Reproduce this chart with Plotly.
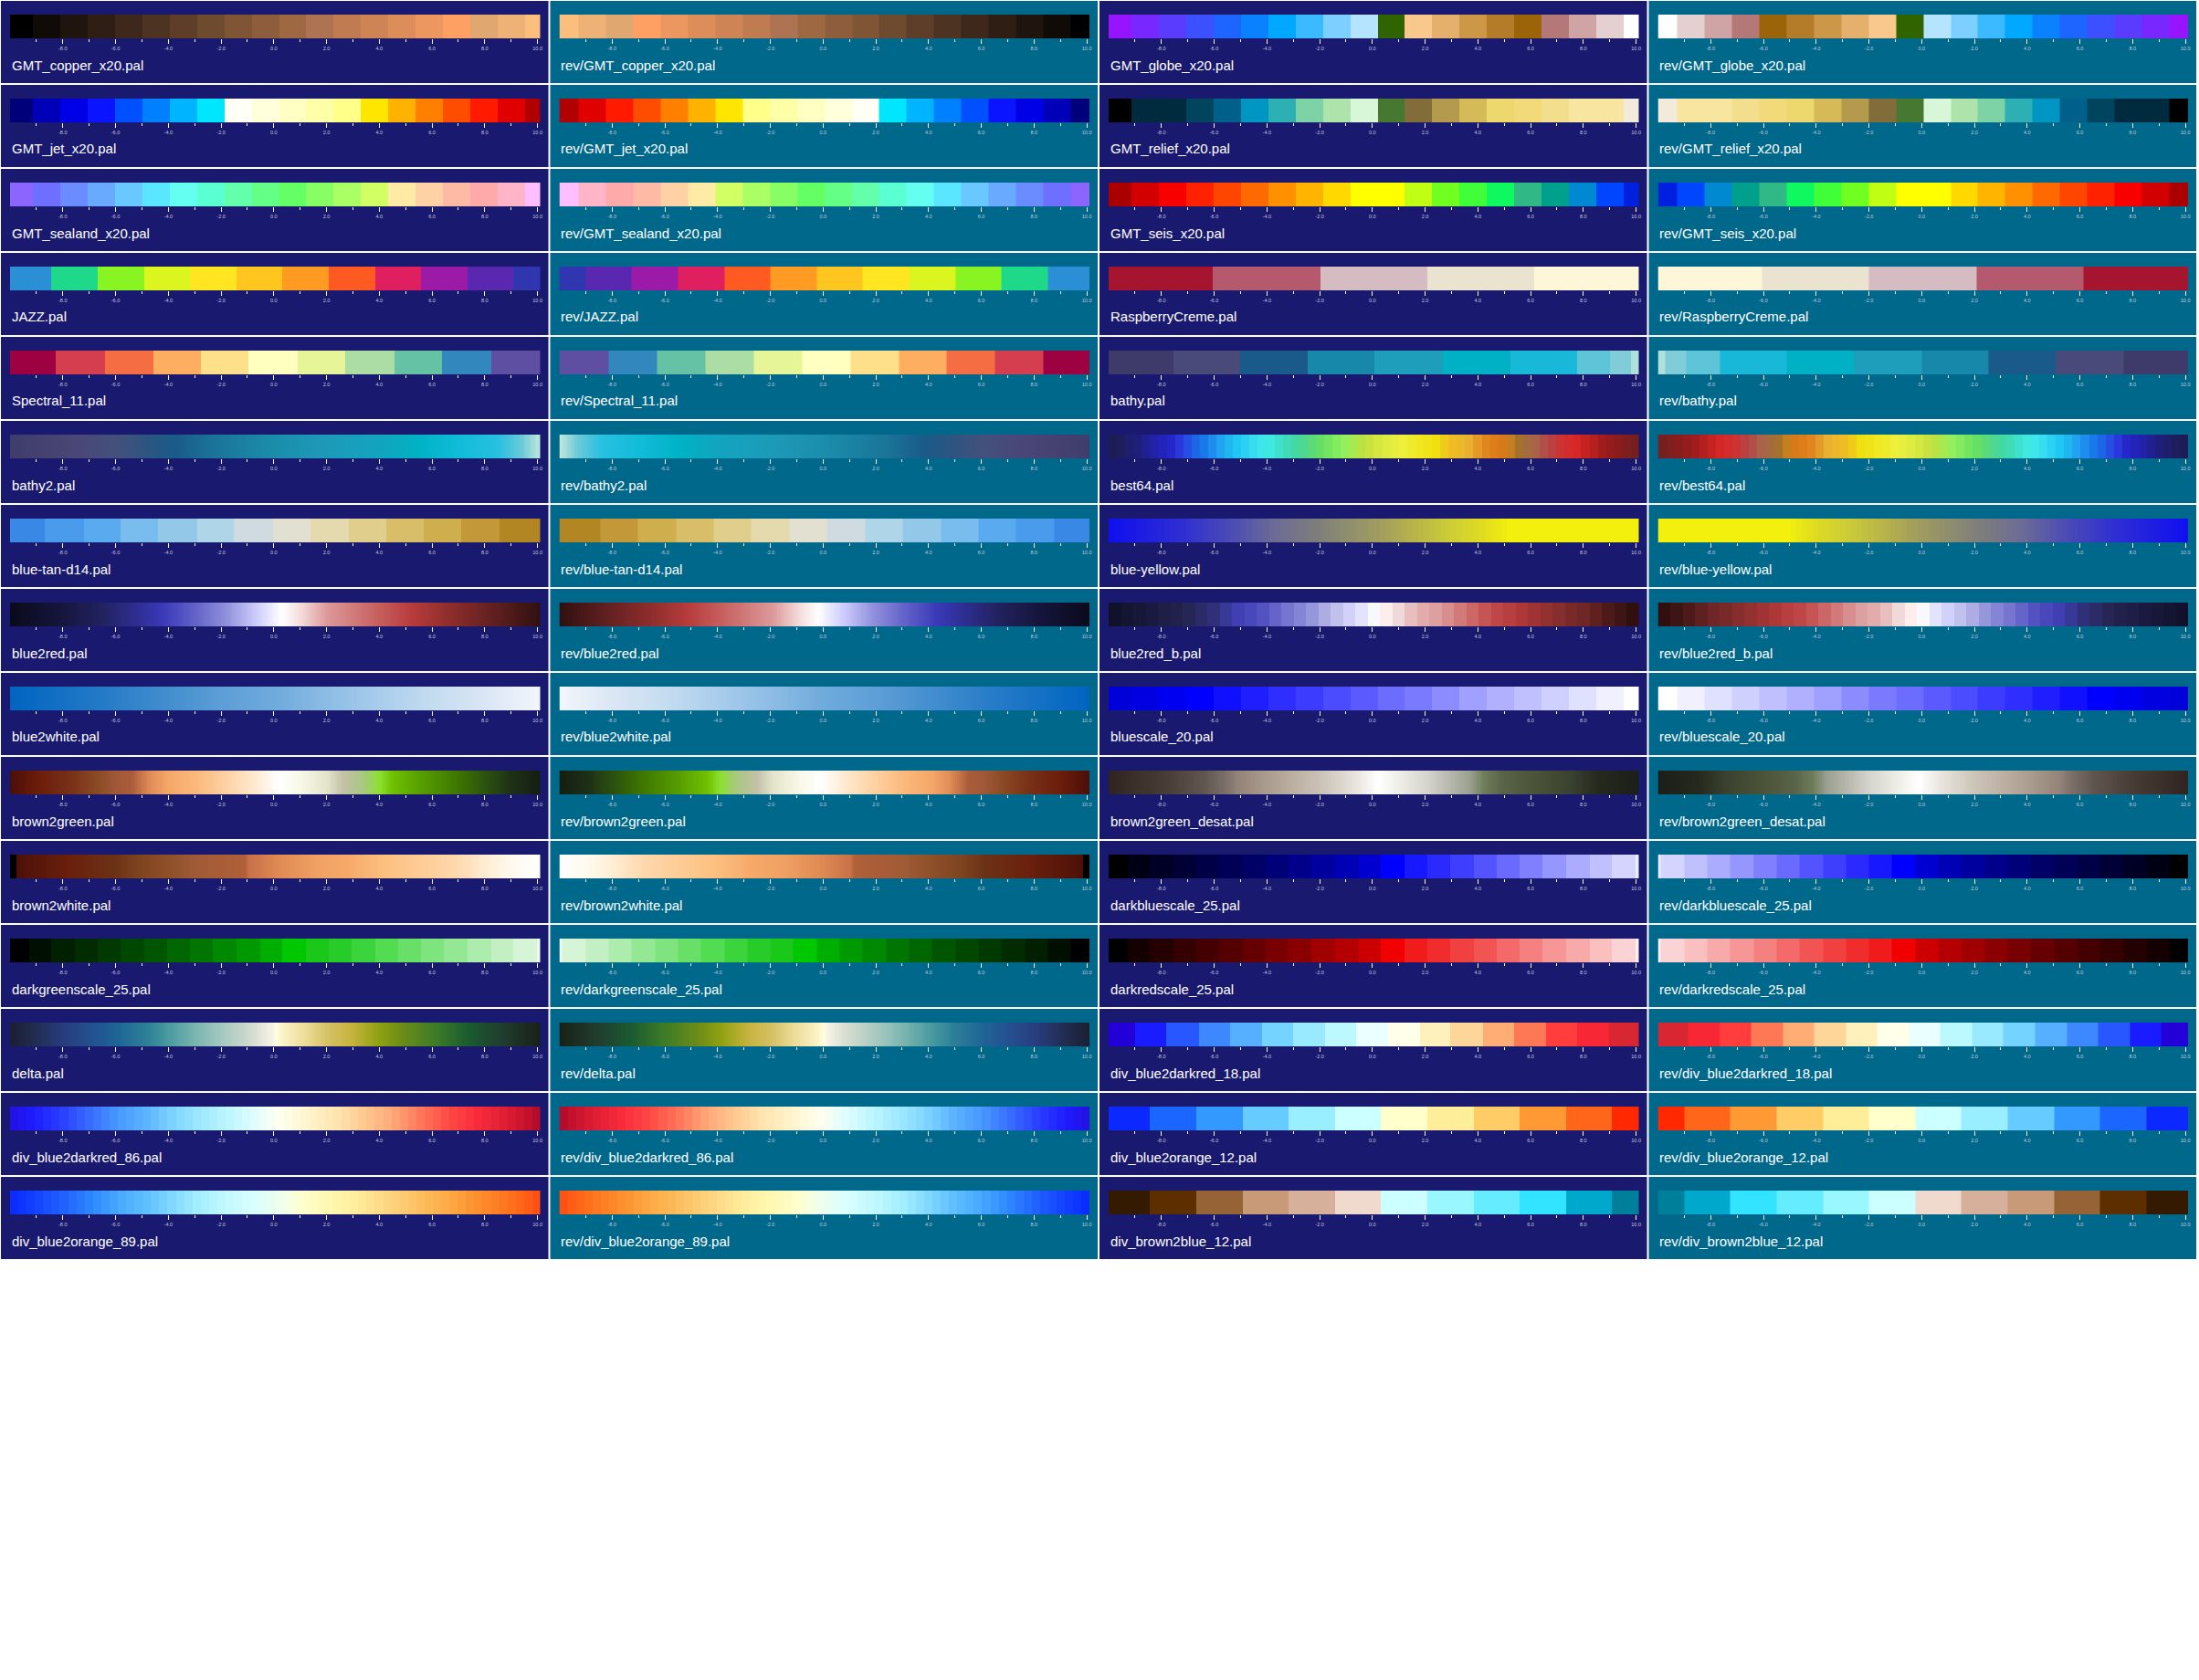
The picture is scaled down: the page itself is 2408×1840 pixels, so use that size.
import plotly.graph_objects as go

# ---------------- data ----------------
TICK_VALUES = [-8, -6, -4, -2, 0, 2, 4, 6, 8, 10]
TICK_LABELS = ["-8.0", "-6.0", "-4.0", "-2.0", "0.0", "2.0", "4.0", "6.0", "8.0", "10.0"]
MINOR_TICK_VALUES = [-9, -7, -5, -3, -1, 1, 3, 5, 7, 9]
X_RANGE = [-10, 10.1]

# box edges (value units)
EDGES_20 = [-10, -9.13, -8.09, -7.06, -6.02, -4.98, -3.95, -2.91, -1.87, -0.84, 0.2,
            1.23, 2.27, 3.30, 4.34, 5.38, 6.41, 7.45, 8.49, 9.52, 10.1]
EDGES_20_REV = [-10, -9.26, -8.23, -7.19, -6.16, -5.12, -4.08, -3.05, -2.01, -0.98, 0.06,
                1.10, 2.13, 3.17, 4.20, 5.24, 6.28, 7.31, 8.35, 9.38, 10.1]
EDGES_25 = [-10, -9.28, -8.43, -7.55, -6.66, -5.80, -4.92, -4.03, -3.17, -2.30, -1.40, -0.53,
            0.33, 1.23, 2.10, 2.96, 3.84, 4.73, 5.59, 6.46, 7.36, 8.23, 9.09, 9.99, 10.1]
EDGES_12 = [-10, -8.43, -6.66, -4.92, -3.17, -1.40, 0.33, 2.10, 3.84, 5.59, 7.36, 9.09, 10.1]
EDGES_11 = [-10, -8.26, -6.41, -4.58, -2.78, -0.95, 0.89, 2.72, 4.56, 6.39, 8.23, 10.1]
EDGES_14 = [-10, -8.67, -7.21, -5.80, -4.38, -2.91, -1.51, -0.04, 1.38, 2.83, 4.25, 5.67,
            7.12, 8.55, 10.1]
EDGES_5 = [-10, -6.04, -1.98, 2.10, 6.15, 10.1]
EDGES_BATHY = [-10, -7.55, -5.00, -2.44, 0.09, 2.66, 5.22, 7.75, 9.02, 9.82, 10.1]
EDGES_17 = [-10, -8.98, -7.81, -6.58, -5.41, -4.20, -2.99, -1.81, -0.60, 0.58, 1.79, 2.96,
            4.19, 5.36, 6.57, 7.75, 8.96, 10.1]

GMT_COPPER_X20 = ["#000000", "#110b07", "#1f150e", "#2e1e14", "#3d281b", "#4d3322", "#5e3e28",
                  "#6e4a2f", "#7f5536", "#8d5d3c", "#9e6843", "#ad7352", "#c07b50", "#cf8455",
                  "#dd8d5a", "#ec975f", "#fe9f64", "#e0a870", "#eeb276", "#fcbe7c"]
GMT_GLOBE_X20 = ["#9614ff", "#7828ff", "#5a3cff", "#3c50ff", "#1e64ff", "#0a82ff", "#00a8ff",
                 "#3cbaff", "#7ccfff", "#b4e4ff", "#306400", "#f8c88c", "#e4b06c", "#cc9848",
                 "#b47c28", "#9c6408", "#b47878", "#d0a4a4", "#e4d0d0", "#ffffff"]
GMT_JET_X20 = ["#00007a", "#0000b9", "#0000e6", "#0a14ff", "#0050ff", "#0080ff", "#00b4ff",
               "#00e6ff", "#fffff5", "#ffffdc", "#ffffc4", "#ffffa8", "#ffff8a", "#ffe600",
               "#ffb300", "#ff8000", "#ff4d00", "#ff1a00", "#e00000", "#b00000"]
GMT_RELIEF_X20 = ["#000000", "#002b3e", "#002b3e", "#00445e", "#00608a", "#0096c4", "#2db0b4",
                  "#7dd3a5", "#aee4ac", "#d8f6d8", "#467832", "#826c3a", "#b49a4c", "#d6ba58",
                  "#ecd86c", "#f2da7a", "#f2de8c", "#f8e6a0", "#f8e6a0", "#f2eada"]
GMT_SEALAND_X20 = ["#8c64ff", "#6e6eff", "#6a8cff", "#69aaff", "#69c8ff", "#5ae6ff", "#64fff0",
                   "#5affd2", "#64ffaa", "#64ff87", "#64ff64", "#87ff64", "#aaff64", "#d2ff64",
                   "#ffeba5", "#ffd2a5", "#ffbaa5", "#ffaaaa", "#ffb4c8", "#ffbeff"]
GMT_SEIS_X20 = ["#aa0000", "#d20000", "#f80000", "#ff2200", "#ff4600", "#ff6a00", "#ff9000",
                "#ffb400", "#ffd800", "#ffff00", "#ffff00", "#c0ff14", "#70ff20", "#40ff38",
                "#10f860", "#30b886", "#00a08c", "#0088d0", "#0046ff", "#0020e0"]
JAZZ = ["#2b8fd6", "#1fd98a", "#88f522", "#dbf51f", "#ffe620", "#ffc61f", "#ff9b22",
        "#ff5a22", "#e01f60", "#9b1aa8", "#5a28b0", "#3036b0"]
RASPBERRY_CREME = ["#a51530", "#b55a6e", "#d4bcc2", "#e9e3d0", "#fdf6d8"]
SPECTRAL_11 = ["#9e0142", "#d53e4f", "#f46d43", "#fdae61", "#fee08b", "#ffffbf", "#e6f598",
               "#abdda4", "#66c2a5", "#3288bd", "#5e4fa2"]
BATHY = ["#3e3a6a", "#4a4a7a", "#1a5a8a", "#1888aa", "#1e9eba", "#00b0c4", "#18b8d8",
         "#5ec4d8", "#80ccd8", "#b0e0dc"]
BLUE_TAN_D14 = ["#3a88e6", "#4b9bec", "#5aaaf0", "#78bdee", "#94c8e8", "#aed6e8", "#cfdbe0",
                "#e2e0d0", "#e4daae", "#e0cf8c", "#d8be68", "#cfae4e", "#c39838", "#b18623"]
BLUESCALE_20 = ["#0000d8", "#0000e0", "#0000f0", "#0000ff", "#1010ff", "#1e1eff", "#2e2eff",
                "#3c3cff", "#4c4cff", "#5a5aff", "#6c6cff", "#7a7aff", "#8c8cff", "#a0a0ff",
                "#b0b0ff", "#c0c0ff", "#d0d0ff", "#e0e0ff", "#f0f0ff", "#ffffff"]
DARKGREENSCALE_25 = ["#000000", "#001000", "#002000", "#002c00", "#003a00", "#004800", "#005600",
                     "#006600", "#007600", "#008800", "#009a00", "#00ae00", "#00c800", "#1ac81a",
                     "#28cc28", "#3cd43c", "#52dc52", "#68e068", "#7ee47e", "#94e894", "#acecac",
                     "#c2f0c2", "#d6f4d6", "#eefaee"]
DARKBLUESCALE_25 = ["#000000", "#000014", "#000026", "#000036", "#000046", "#000056", "#000066",
                    "#000078", "#00008a", "#00009e", "#0000b4", "#0000d0", "#0000ff", "#1818ff",
                    "#2a2aff", "#3e3eff", "#5454ff", "#6a6aff", "#8080ff", "#9696ff", "#acacff",
                    "#c0c0ff", "#d4d4ff", "#ececff"]
DARKREDSCALE_25 = ["#000000", "#140000", "#240000", "#340000", "#440000", "#540000", "#660000",
                   "#780000", "#8a0000", "#a00000", "#b40000", "#cc0000", "#f00000", "#f01c1c",
                   "#f02c2c", "#f04040", "#f25454", "#f46a6a", "#f48080", "#f69696", "#f8aaaa",
                   "#fac0c0", "#fad4d4", "#ffeeee"]
DIV_BLUE2DARKRED_18 = ["#2400d8", "#181cff", "#2857ff", "#3d87ff", "#56b0ff", "#75d3ff",
                       "#99eaff", "#bcf9ff", "#eaffff", "#ffffea", "#fff1bc", "#ffd699",
                       "#ffac75", "#ff7856", "#ff3d3d", "#f72735", "#d82632"]
DIV_BLUE2ORANGE_12 = ["#0a28ff", "#1a66ff", "#3399ff", "#66ccff", "#99eeff", "#ccffff",
                      "#ffffcc", "#ffee99", "#ffcc66", "#ff9933", "#ff6619", "#ff2800"]
DIV_BROWN2BLUE_12 = ["#331a00", "#5c2e00", "#966336", "#c89a78", "#d6b09a", "#f0dace",
                     "#ccffff", "#99f8ff", "#66ecff", "#32e4ff", "#00a8cc", "#007f9a"]

# continuous palettes: (value, colour) stops
BATHY2 = [(-10, "#3e3d6b"), (-7.5, "#4a4677"), (-6, "#44507c"), (-4.8, "#2c5580"),
          (-3.7, "#1a5b8a"), (-2.3, "#1a7498"), (0, "#1b8dab"), (2, "#1d9ab8"), (4, "#12a4bf"),
          (5.5, "#00b2c4"), (7, "#10bcd8"), (8.5, "#28c0e0"), (9.4, "#6ccad8"), (10.1, "#c4e8dc")]
BLUE2RED = [(-10, "#0a0a1c"), (-8, "#16163e"), (-6.5, "#222260"), (-5, "#30309a"),
            (-4.2, "#3a3ab8"), (-3, "#6262c8"), (-1.8, "#9090dc"), (-0.6, "#d0d0ff"),
            (0.3, "#ffffff"), (1, "#f4dcdc"), (2, "#dc9a9a"), (3.5, "#cc6c6c"), (5.2, "#b83c3c"),
            (6.5, "#922e2e"), (8, "#6a2222"), (10.1, "#301010")]
BLUE2WHITE = [(-10, "#0064c0"), (-6, "#2a7ec8"), (-2, "#5c9ed6"), (0, "#6eaadc"), (2, "#8cbce4"),
              (4, "#a8cceb"), (6, "#c4dcf0"), (8, "#dae6f4"), (10.1, "#f2f6fc")]
BROWN2GREEN = [(-10, "#4a0e0a"), (-9, "#6a1c0a"), (-7.7, "#783018"), (-6.7, "#8a4a24"),
               (-6, "#a05838"), (-5.4, "#aa5c3a"), (-4.7, "#e08c58"), (-4, "#f4a868"),
               (-3, "#fbb87a"), (-1.9, "#fdd0a0"), (-0.8, "#fee8cc"), (0.2, "#ffffff"),
               (1, "#f8f8e8"), (2, "#e4e4cc"), (2.6, "#c4c0a8"), (3.4, "#a8c880"), (4, "#8ce030"),
               (4.5, "#70c000"), (5.5, "#58a000"), (6.9, "#407800"), (8.2, "#284c10"),
               (9, "#1e3018"), (10.1, "#141e10")]
BROWN2WHITE = [(-10, "#000000"), (-9.77, "#000000"), (-9.77, "#4c1008"), (-7.7, "#6a200c"),
               (-6, "#6c3216"), (-5.1, "#7e4420"), (-4, "#8e5028"), (-3, "#a05a36"),
               (-1.1, "#b06038"), (-0.95, "#c87048"), (0.2, "#e08a55"), (1.6, "#f0a062"),
               (2.9, "#f6aa6a"), (4.2, "#fdc080"), (6.9, "#fed8ac"), (8.2, "#fff0d8"),
               (9.1, "#fffaf0"), (10.1, "#ffffff")]
DELTA = [(-10, "#1a1e30"), (-9.1, "#222c50"), (-8, "#283c7c"), (-6.9, "#245090"),
         (-5.9, "#1e6696"), (-4.8, "#2e8098"), (-4, "#4a9aa0"), (-3, "#78b4b0"), (-1.9, "#a8cac0"),
         (-0.8, "#d6dcd0"), (-0.1, "#f4f2e4"), (0.1, "#fffce0"), (0.3, "#fcf4c8"),
         (1.2, "#ecdc98"), (2.1, "#d4c060"), (2.9, "#c8b440"), (4, "#8ea010"), (4.9, "#6a8c18"),
         (6.2, "#3a7a28"), (7.4, "#1a5a30"), (8.5, "#204030"), (10.1, "#1a2018")]
DIV_BLUE2DARKRED_86 = [(-10, "#2410e0"), (-9.1, "#1e1cff"), (-8, "#2a40ff"), (-6.9, "#3870ff"),
                       (-5.9, "#4898ff"), (-4.8, "#5cb4ff"), (-4, "#78d0ff"), (-3, "#98e4ff"),
                       (-1.9, "#b8f4ff"), (-0.8, "#ddfcff"), (0.2, "#fffff0"), (1.3, "#fff4cc"),
                       (2.4, "#ffe4b0"), (3.4, "#ffca90"), (4.5, "#ffa878"), (5.5, "#ff7a5c"),
                       (6.6, "#ff4a44"), (7.7, "#f82c3c"), (8.7, "#e01e34"), (9.5, "#c8122e"),
                       (10.1, "#b00a2a")]
DIV_BLUE2ORANGE_89 = [(-10, "#0a28ff"), (-9.1, "#1240ff"), (-8, "#2060ff"), (-6.9, "#2e88ff"),
                      (-5.9, "#48a8ff"), (-4.8, "#60c0ff"), (-4, "#7cd4ff"), (-3, "#a0ecff"),
                      (-1.9, "#c0f8ff"), (-0.8, "#d8ffff"), (0.2, "#eeffee"), (1, "#ffffd0"),
                      (2.1, "#fff8b0"), (2.9, "#fff0a0"), (4, "#fedc88"), (5, "#fdc870"),
                      (6.1, "#fcb450"), (7.2, "#fc9c38"), (8.2, "#fe8428"), (9.3, "#ff6818"),
                      (10.1, "#ff4c10")]
BEST64 = [(-10, "#1c1c50"), (-9.5, "#1e1e60"), (-8.8, "#1e1e80"), (-8.3, "#2222a8"),
          (-7.7, "#2424c8"), (-7.2, "#2c3ee0"), (-6.8, "#1e60e8"), (-6.4, "#1878e8"),
          (-6, "#2090f0"), (-5.6, "#20b0f0"), (-5.1, "#20c8f4"), (-4.5, "#38dcf0"),
          (-4, "#40ece8"), (-3.5, "#40e0c8"), (-3, "#40d8a8"), (-2.4, "#58d880"),
          (-1.9, "#68e060"), (-1.1, "#90f060"), (-0.3, "#c0e040"), (0.2, "#d4e840"),
          (1, "#ecf040"), (1.8, "#f0e820"), (2.4, "#f0e010"), (2.9, "#f0c020"), (3.7, "#e8b030"),
          (4.2, "#e08820"), (4.8, "#e07818"), (5.2, "#c88020"), (5.6, "#a07030"),
          (6.1, "#a86848"), (6.6, "#b04848"), (7.2, "#d03030"), (7.7, "#d82828"),
          (8.2, "#c02020"), (8.7, "#a01c1c"), (9.3, "#8a1c1c"), (10.1, "#702020")]
BLUE_YELLOW = [(-10, "#1010f0"), (-8.8, "#1c1ce4"), (-7.1, "#3030d0"), (-5.1, "#5050b0"),
               (-3.8, "#6a6a98"), (-2.4, "#7a7a80"), (-1.1, "#8c8c70"), (0.2, "#a09c60"),
               (1.6, "#b8b448"), (2.9, "#cccc38"), (4.2, "#e0dc20"), (5.2, "#f2f00c"),
               (10.1, "#f2f00c")]
BLUE2RED_B = [(-10, "#101028"), (-8.4, "#1a1a40"), (-7.1, "#242450"), (-6, "#30307a"),
              (-5.1, "#4040b4"), (-4.2, "#5050c0"), (-3.4, "#7070d0"), (-2.4, "#9090d8"),
              (-1.6, "#b8b8e8"), (-0.7, "#d8d8ff"), (-0.2, "#ececff"), (0.2, "#ffffff"),
              (0.6, "#ffe8e8"), (1.2, "#e8d0d0"), (1.6, "#e8b4b4"), (2.4, "#dca0a0"),
              (2.9, "#d88c8c"), (3.7, "#cc6a6a"), (4.6, "#c04848"), (5.6, "#b03838"),
              (6.4, "#983232"), (7.2, "#822c2c"), (8.2, "#6a2424"), (9, "#4a1818"),
              (10.1, "#2c0c0c")]
BROWN2GREEN_DESAT = [(-10, "#2e2420"), (-9.1, "#3a2e28"), (-7.7, "#4a3e38"), (-6.4, "#605650"),
                     (-5.6, "#7a6e68"), (-5.1, "#948478"), (-4, "#aa9c8e"), (-3, "#bcb0a2"),
                     (-1.9, "#ccc4b8"), (-0.8, "#e4e0d8"), (0.2, "#ffffff"), (1, "#eeeee8"),
                     (2.1, "#d4d4cc"), (2.9, "#b8b8ae"), (3.7, "#9aa090"), (4.2, "#707e5c"),
                     (4.9, "#5a6448"), (6.2, "#4a5238"), (7.5, "#3a4230"), (8.5, "#262a1e"),
                     (10.1, "#1c1e18")]

STEPS_SMOOTH = 240
STEPS_BANDED = 64
STEPS_FINE = 96
STEPS_BLUE2RED_B = 43

# rows: (label, palette, edges-or-step-count) for the two base palettes of each row
ROWS = [
    [("GMT_copper_x20.pal", GMT_COPPER_X20, EDGES_20), ("GMT_globe_x20.pal", GMT_GLOBE_X20, EDGES_20)],
    [("GMT_jet_x20.pal", GMT_JET_X20, EDGES_20), ("GMT_relief_x20.pal", GMT_RELIEF_X20, EDGES_20)],
    [("GMT_sealand_x20.pal", GMT_SEALAND_X20, EDGES_20), ("GMT_seis_x20.pal", GMT_SEIS_X20, EDGES_20)],
    [("JAZZ.pal", JAZZ, EDGES_12), ("RaspberryCreme.pal", RASPBERRY_CREME, EDGES_5)],
    [("Spectral_11.pal", SPECTRAL_11, EDGES_11), ("bathy.pal", BATHY, EDGES_BATHY)],
    [("bathy2.pal", BATHY2, STEPS_SMOOTH), ("best64.pal", BEST64, STEPS_BANDED)],
    [("blue-tan-d14.pal", BLUE_TAN_D14, EDGES_14), ("blue-yellow.pal", BLUE_YELLOW, STEPS_FINE)],
    [("blue2red.pal", BLUE2RED, STEPS_SMOOTH), ("blue2red_b.pal", BLUE2RED_B, STEPS_BLUE2RED_B)],
    [("blue2white.pal", BLUE2WHITE, STEPS_SMOOTH), ("bluescale_20.pal", BLUESCALE_20, EDGES_20)],
    [("brown2green.pal", BROWN2GREEN, STEPS_SMOOTH), ("brown2green_desat.pal", BROWN2GREEN_DESAT, STEPS_SMOOTH)],
    [("brown2white.pal", BROWN2WHITE, STEPS_SMOOTH), ("darkbluescale_25.pal", DARKBLUESCALE_25, EDGES_25)],
    [("darkgreenscale_25.pal", DARKGREENSCALE_25, EDGES_25), ("darkredscale_25.pal", DARKREDSCALE_25, EDGES_25)],
    [("delta.pal", DELTA, STEPS_SMOOTH), ("div_blue2darkred_18.pal", DIV_BLUE2DARKRED_18, EDGES_17)],
    [("div_blue2darkred_86.pal", DIV_BLUE2DARKRED_86, STEPS_BANDED), ("div_blue2orange_12.pal", DIV_BLUE2ORANGE_12, EDGES_12)],
    [("div_blue2orange_89.pal", DIV_BLUE2ORANGE_89, STEPS_BANDED), ("div_brown2blue_12.pal", DIV_BROWN2BLUE_12, EDGES_12)],
]

# ---------------- style / layout ----------------
W, H = 2408, 1840
COL_W, ROW_H = 602, 92
PANEL_BG = ["#191970", "#00688b", "#191970", "#00688b"]
TICK_FONT_COLOR = "#c8c8dc"
FONT = "Liberation Sans, Arial, Helvetica, sans-serif"
LO, HI = X_RANGE


def reversed_entry(label, pal, spec):
    if isinstance(spec, int):
        stops = [(LO + HI - p, c) for p, c in reversed(pal)]
        return ("rev/" + label, stops, spec)
    cols = list(reversed(pal))
    if spec is EDGES_20:
        edges = EDGES_20_REV
    else:
        edges = [LO + HI - e for e in reversed(spec)]
    return ("rev/" + label, cols, edges)


def make_trace(pal, spec, xa, ya):
    if isinstance(spec, int):
        n = spec
        step = (HI - LO) / n
        edges = [LO + i * step for i in range(n + 1)]
        centers = [(edges[i] + edges[i + 1]) / 2 for i in range(n)]
        cs = [[min(1.0, max(0.0, (p - LO) / (HI - LO))), c] for p, c in pal]
        cs[0][0] = 0.0
        cs[-1][0] = 1.0
        return go.Heatmap(x=edges, y=[-0.5, 0.5], z=[centers], zmin=LO, zmax=HI,
                          colorscale=cs, showscale=False, hoverinfo="skip",
                          xaxis=xa, yaxis=ya)
    n = len(pal)
    cs = []
    for i, c in enumerate(pal):
        cs.append([i / n, c])
        cs.append([(i + 1) / n, c])
    return go.Heatmap(x=spec, y=[-0.5, 0.5], z=[list(range(n))], zmin=-0.5, zmax=n - 0.5,
                      colorscale=cs, showscale=False, hoverinfo="skip",
                      xaxis=xa, yaxis=ya)


fig = go.Figure()
layout = dict(width=W, height=H, margin=dict(l=0, r=0, t=0, b=0, pad=0),
              paper_bgcolor="white", plot_bgcolor="rgba(0,0,0,0)", showlegend=False)
shapes, annotations = [], []

k = 0
for r, row in enumerate(ROWS):
    (l1, p1, s1), (l2, p2, s2) = row
    cells = [(l1, p1, s1), reversed_entry(l1, p1, s1), (l2, p2, s2), reversed_entry(l2, p2, s2)]
    for c, (label, pal, spec) in enumerate(cells):
        k += 1
        sfx = "" if k == 1 else str(k)
        cx0, cx1 = c * COL_W + 1, c * COL_W + 601
        cy0, cy1 = r * ROW_H + 1, r * ROW_H + 91
        bx0, bx1 = c * COL_W + 11, c * COL_W + 592
        by0, by1 = r * ROW_H + 16, r * ROW_H + 42
        shapes.append(dict(type="rect", xref="paper", yref="paper", layer="below",
                           x0=cx0 / W, x1=cx1 / W, y0=1 - cy1 / H, y1=1 - cy0 / H,
                           fillcolor=PANEL_BG[c], line=dict(width=0)))
        layout["xaxis" + sfx] = dict(
            domain=[bx0 / W, bx1 / W], anchor="y" + sfx, range=X_RANGE,
            showgrid=False, zeroline=False, showline=False, fixedrange=True,
            ticks="outside", ticklen=5, tickwidth=1, tickcolor="white",
            tickmode="array", tickvals=TICK_VALUES, ticktext=TICK_LABELS,
            tickfont=dict(size=5.5, color=TICK_FONT_COLOR, family=FONT),
            minor=dict(tickmode="array", tickvals=MINOR_TICK_VALUES, ticks="outside",
                       ticklen=3, tickwidth=1, tickcolor="white", showgrid=False))
        layout["yaxis" + sfx] = dict(domain=[1 - by1 / H, 1 - by0 / H], anchor="x" + sfx,
                                     range=[-0.5, 0.5], visible=False, fixedrange=True)
        fig.add_trace(make_trace(pal, spec, "x" + sfx, "y" + sfx))
        annotations.append(dict(text=label, xref="paper", yref="paper", showarrow=False,
                                x=bx0 / W, y=1 - (r * ROW_H + 71) / H,
                                xanchor="left", yanchor="middle",
                                font=dict(size=15, color="white", family=FONT)))

layout["shapes"] = shapes
layout["annotations"] = annotations
fig.update_layout(**layout)

fig.write_html("out.html", config={"displayModeBar": False},
               post_script="document.body.style.margin='0px';")
